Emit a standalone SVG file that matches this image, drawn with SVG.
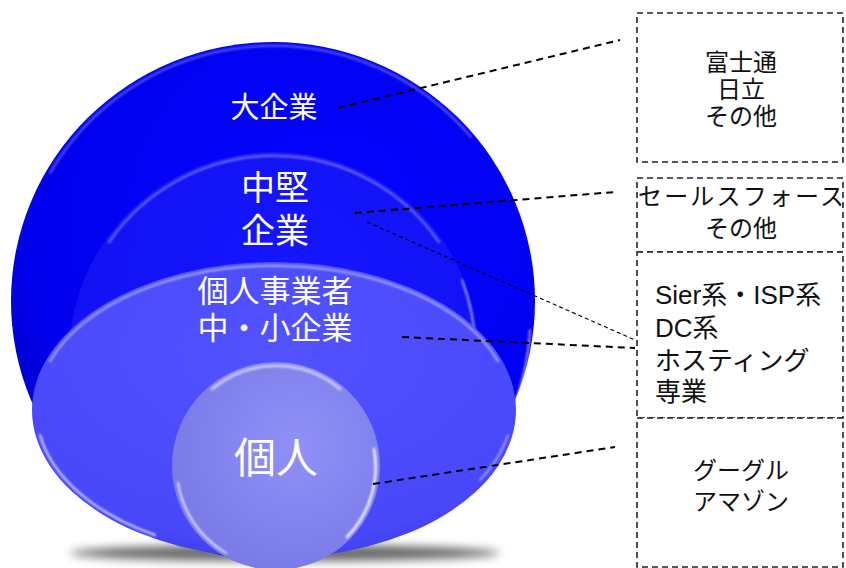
<svg xmlns="http://www.w3.org/2000/svg" width="846" height="568" viewBox="0 0 846 568">
<defs>
<style>
.lbl{font-family:"Liberation Sans","Noto Sans CJK JP",sans-serif;fill:#ffffff;text-anchor:middle}
.bx{font-family:"Liberation Sans","Noto Sans CJK JP",sans-serif;fill:#111;font-size:24px}
.c{text-anchor:middle}
.box{fill:#fff;stroke:#222;stroke-width:1.6;stroke-dasharray:6 4}
.con{fill:none;stroke:#000;stroke-width:2;stroke-dasharray:7 5}
.thin{fill:none;stroke:#000;stroke-width:1.1;stroke-dasharray:4 3}
.hl{fill:none;stroke:#ffffff;stroke-linecap:round}
</style>
<radialGradient id="g1" cx="0.6" cy="0.35" r="0.7">
<stop offset="0" stop-color="#0505ff"/>
<stop offset="0.8" stop-color="#0000ee"/>
<stop offset="1" stop-color="#0000c8"/>
</radialGradient>
<radialGradient id="g2" cx="0.55" cy="0.3" r="0.7">
<stop offset="0" stop-color="#1616ff"/>
<stop offset="1" stop-color="#1010f0"/>
</radialGradient>
<radialGradient id="g3" cx="0.5" cy="0.3" r="0.75">
<stop offset="0" stop-color="#5252ff"/>
<stop offset="0.85" stop-color="#4848fa"/>
<stop offset="1" stop-color="#3c3ce6"/>
</radialGradient>
<radialGradient id="g4" cx="0.6" cy="0.4" r="0.7">
<stop offset="0" stop-color="#9090f8"/>
<stop offset="1" stop-color="#7878e6"/>
</radialGradient>
<filter id="blur" x="-20%" y="-200%" width="140%" height="500%">
<feGaussianBlur stdDeviation="5"/>
</filter>
<filter id="soft" x="-10%" y="-10%" width="120%" height="120%">
<feGaussianBlur stdDeviation="0.8"/>
</filter>
</defs>
<rect width="846" height="568" fill="#ffffff"/>
<ellipse cx="285" cy="553" rx="215" ry="8" fill="#000" opacity="0.6" filter="url(#blur)"/>
<g id="large">
<ellipse cx="273" cy="301" rx="262" ry="259" fill="url(#g1)"/>
<path class="hl" d="M50 173 A258 255 0 0 1 471 137" stroke-width="2" opacity="0.35" filter="url(#soft)"/>
<path class="hl" d="M530 330 A258 255 0 0 1 516 400" stroke-width="2" opacity="0.6" filter="url(#soft)"/>
<text class="lbl" x="274" y="118" font-size="29">大企業</text>
</g>
<g id="mid">
<circle cx="274" cy="357" r="205" fill="url(#g2)"/>
<path class="hl" d="M109 242 A201 201 0 0 1 439 242" stroke-width="2.5" opacity="0.35" filter="url(#soft)"/>
<path class="hl" d="M462 280 A201 201 0 0 1 475 345" stroke-width="1.5" opacity="0.75" filter="url(#soft)"/>
<text class="lbl" x="275" y="200" font-size="34">中堅</text>
<text class="lbl" x="275" y="243" font-size="34">企業</text>
</g>
<g id="small-mid">
<ellipse cx="274" cy="410" rx="242" ry="148" fill="url(#g3)"/>
<path class="hl" d="M50 361 A238 144 0 0 1 498 361" stroke-width="2.5" opacity="0.45" filter="url(#soft)"/>
<path class="hl" d="M40 435 A238 144 0 0 0 155 535" stroke-width="2" opacity="0.8" filter="url(#soft)"/>
<path class="hl" d="M508 435 A238 144 0 0 1 480 480" stroke-width="1.5" opacity="0.6" filter="url(#soft)"/>
<text class="lbl" x="275" y="302" font-size="31">個人事業者</text>
<text class="lbl" x="275" y="339" font-size="31">中・小企業</text>
</g>
<g id="personal">
<circle cx="276" cy="466" r="104" fill="url(#g4)"/>
<path class="hl" d="M212 389 A100 100 0 0 1 340 389" stroke-width="3" opacity="0.55" filter="url(#soft)"/>
<path class="hl" d="M374 449 A100 100 0 0 1 347 537" stroke-width="2.5" opacity="0.9" filter="url(#soft)"/>
<path class="hl" d="M178 483 A100 100 0 0 0 226 553" stroke-width="2" opacity="0.75" filter="url(#soft)"/>
<text class="lbl" x="276" y="473" font-size="42">個人</text>
</g>
<g id="connectors">
<line class="con" x1="338" y1="108" x2="620" y2="40"/>
<line class="con" x1="355" y1="213" x2="615" y2="192"/>
<line class="thin" x1="367" y1="222" x2="635" y2="340"/>
<line class="con" x1="402" y1="337" x2="635" y2="348"/>
<line class="con" x1="373" y1="484" x2="615" y2="447"/>
</g>
<g id="box1">
<rect class="box" x="637" y="13" width="206" height="149"/>
<text class="bx c" x="741" y="71">富士通</text>
<text class="bx c" x="741" y="98">日立</text>
<text class="bx c" x="741" y="125">その他</text>
</g>
<g id="box2">
<rect class="box" x="637" y="178" width="206" height="74"/>
<text class="bx c" x="741" y="205" textLength="206" lengthAdjust="spacing">セールスフォース</text>
<text class="bx c" x="741" y="237">その他</text>
</g>
<g id="box3">
<rect class="box" x="637" y="252" width="206" height="166"/>
<text class="bx" x="655" y="304" font-size="26" style="font-size:26px">Sier系・ISP系</text>
<text class="bx" x="655" y="337" style="font-size:26px">DC系</text>
<text class="bx" x="655" y="370" style="font-size:26px">ホスティング</text>
<text class="bx" x="655" y="401" style="font-size:26px">専業</text>
</g>
<g id="box4">
<rect class="box" x="637" y="418" width="206" height="149"/>
<text class="bx c" x="741" y="479">グーグル</text>
<text class="bx c" x="741" y="510">アマゾン</text>
</g>
</svg>
